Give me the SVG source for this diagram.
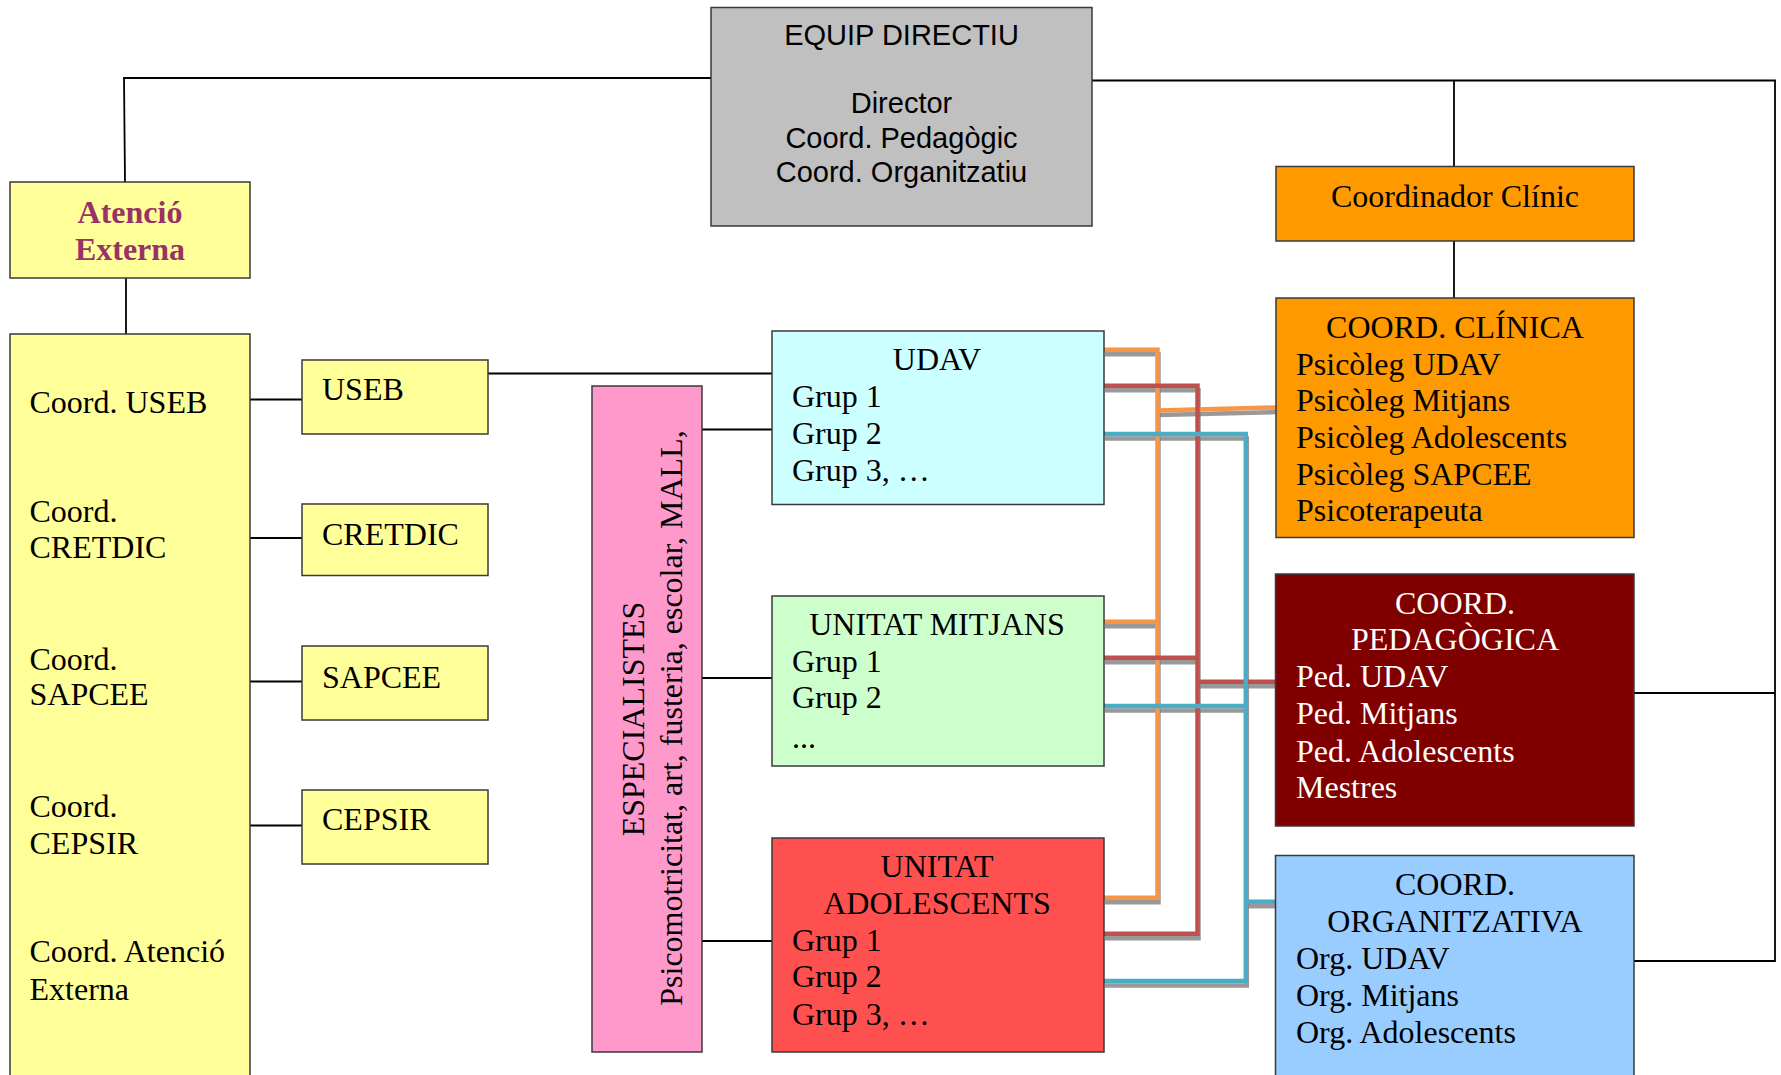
<svg xmlns="http://www.w3.org/2000/svg" width="1781" height="1075" viewBox="0 0 1781 1075">
<style>
.box{stroke:#3a3a3a;stroke-width:1.5}
.ln{fill:none;stroke:#000;stroke-width:1.8}
.t{font-family:"Liberation Serif","Times New Roman",serif;font-size:32px;fill:#000}
.c{text-anchor:middle}
.s{font-family:"Liberation Sans",Arial,sans-serif;font-size:29px;fill:#000;text-anchor:middle}
.w{fill:#fff}
.cn{fill:none;stroke-width:4.5;stroke-linejoin:miter}
.sh{fill:none;stroke:#808080;stroke-opacity:0.8;stroke-width:4.5}
.or{stroke:#f79646}
.rd{stroke:#c0504d}
.bl{stroke:#4bacc6}
</style>
<rect width="1781" height="1075" fill="#fff"/>
<g id="connectors">
<polyline class="ln" points="711,78 124,78 125,182"/>
<line class="ln" x1="126" y1="278" x2="126" y2="334"/>
<polyline class="ln" points="1092,80.5 1775,80.5 1775,961 1634,961"/>
<line class="ln" x1="1634" y1="693" x2="1775" y2="693"/>
<line class="ln" x1="1454" y1="80.5" x2="1454" y2="166"/>
<line class="ln" x1="1454" y1="241" x2="1454" y2="298"/>
<line class="ln" x1="250" y1="399.5" x2="302" y2="399.5"/>
<line class="ln" x1="250" y1="538" x2="302" y2="538"/>
<line class="ln" x1="250" y1="681.5" x2="302" y2="681.5"/>
<line class="ln" x1="250" y1="825.5" x2="302" y2="825.5"/>
<line class="ln" x1="488" y1="373.5" x2="772" y2="373.5"/>
<line class="ln" x1="702" y1="429.5" x2="772" y2="429.5"/>
<line class="ln" x1="702" y1="678" x2="772" y2="678"/>
<line class="ln" x1="702" y1="941" x2="772" y2="941"/>
<g transform="translate(1,4.5)">
<polyline class="sh" points="1104,349.7 1157.5,349.7 1157.5,897.7 1104,897.7"/>
<line class="sh" x1="1104" y1="621.7" x2="1157.5" y2="621.7"/>
<line class="sh" x1="1157.5" y1="410.5" x2="1276" y2="407.5"/>
<polyline class="sh" points="1104,385.7 1197.5,385.7 1197.5,933.7 1104,933.7"/>
<line class="sh" x1="1104" y1="657.7" x2="1197.5" y2="657.7"/>
<line class="sh" x1="1197.5" y1="681.7" x2="1276" y2="681.7"/>
<polyline class="sh" points="1104,434 1245.8,434 1245.8,981 1104,981"/>
<line class="sh" x1="1104" y1="706" x2="1245.8" y2="706"/>
<line class="sh" x1="1245.8" y1="901.7" x2="1276" y2="901.7"/>
</g>
<polyline class="cn or" points="1104,349.7 1157.5,349.7 1157.5,897.7 1104,897.7"/>
<line class="cn or" x1="1104" y1="621.7" x2="1157.5" y2="621.7"/>
<line class="cn or" x1="1157.5" y1="410.5" x2="1276" y2="407.5"/>
<polyline class="cn rd" points="1104,385.7 1197.5,385.7 1197.5,933.7 1104,933.7"/>
<line class="cn rd" x1="1104" y1="657.7" x2="1197.5" y2="657.7"/>
<line class="cn rd" x1="1197.5" y1="681.7" x2="1276" y2="681.7"/>
<polyline class="cn bl" points="1104,434 1245.8,434 1245.8,981 1104,981"/>
<line class="cn bl" x1="1104" y1="706" x2="1245.8" y2="706"/>
<line class="cn bl" x1="1245.8" y1="901.7" x2="1276" y2="901.7"/>
</g>
<g id="equip-directiu">
<rect class="box" x="711" y="7.5" width="381" height="218.5" fill="#c0c0c0"/>
<text class="s" x="901.5" y="45">EQUIP DIRECTIU</text>
<text class="s" x="901.5" y="113.3">Director</text>
<text class="s" x="901.5" y="147.6">Coord. Pedagògic</text>
<text class="s" x="901.5" y="181.7">Coord. Organitzatiu</text>
</g>
<g id="atencio-externa">
<rect class="box" x="10" y="182" width="240" height="96" fill="#ffff99"/>
<text class="t c" x="130" y="222.7" font-weight="bold" style="fill:#993366">Atenció</text>
<text class="t c" x="130" y="259.7" font-weight="bold" style="fill:#993366">Externa</text>
</g>
<g id="coordinacions">
<rect class="box" x="10" y="334" width="240" height="760" fill="#ffff99"/>
<text class="t" x="29.5" y="412.5">Coord. USEB</text>
<text class="t" x="29.5" y="522.4">Coord.</text>
<text class="t" x="29.5" y="558">CRETDIC</text>
<text class="t" x="29.5" y="669.7">Coord.</text>
<text class="t" x="29.5" y="705.3">SAPCEE</text>
<text class="t" x="29.5" y="816.6">Coord.</text>
<text class="t" x="29.5" y="853.6">CEPSIR</text>
<text class="t" x="29.5" y="962.4">Coord. Atenció</text>
<text class="t" x="29.5" y="999.5">Externa</text>
</g>
<g id="useb">
<rect class="box" x="302" y="360" width="186" height="74" fill="#ffff99"/>
<text class="t" x="322" y="400.3">USEB</text>
</g>
<g id="cretdic">
<rect class="box" x="302" y="504" width="186" height="71.5" fill="#ffff99"/>
<text class="t" x="322" y="545.2">CRETDIC</text>
</g>
<g id="sapcee">
<rect class="box" x="302" y="646" width="186" height="74" fill="#ffff99"/>
<text class="t" x="322" y="687.5">SAPCEE</text>
</g>
<g id="cepsir">
<rect class="box" x="302" y="790" width="186" height="74" fill="#ffff99"/>
<text class="t" x="322" y="830.4">CEPSIR</text>
</g>
<g id="especialistes">
<rect class="box" x="592" y="386" width="110" height="666" fill="#ff99cc"/>
<text class="t c" transform="translate(644,719) rotate(-90)">ESPECIALISTES</text>
<text class="t c" transform="translate(682,718) rotate(-90)">Psicomotricitat, art, fusteria, escolar, MALL,</text>
</g>
<g id="udav">
<rect class="box" x="772" y="331" width="332" height="173.5" fill="#ccffff"/>
<text class="t c" x="937" y="370">UDAV</text>
<text class="t" x="792" y="407.3">Grup 1</text>
<text class="t" x="792" y="444">Grup 2</text>
<text class="t" x="792" y="480.7">Grup 3, …</text>
</g>
<g id="unitat-mitjans">
<rect class="box" x="772" y="596" width="332" height="170" fill="#ccffcc"/>
<text class="t c" x="937" y="635">UNITAT MITJANS</text>
<text class="t" x="792" y="671.7">Grup 1</text>
<text class="t" x="792" y="708.3">Grup 2</text>
<text class="t" x="792" y="748">...</text>
</g>
<g id="unitat-adolescents">
<rect class="box" x="772" y="838" width="332" height="214" fill="#ff5050"/>
<text class="t c" x="937" y="876.7">UNITAT</text>
<text class="t c" x="937" y="914.3">ADOLESCENTS</text>
<text class="t" x="792" y="950.7">Grup 1</text>
<text class="t" x="792" y="987.3">Grup 2</text>
<text class="t" x="792" y="1025">Grup 3, …</text>
</g>
<g id="coordinador-clinic">
<rect class="box" x="1276" y="166.5" width="358" height="74.5" fill="#ff9900"/>
<text class="t c" x="1455" y="207">Coordinador Clínic</text>
</g>
<g id="coord-clinica">
<rect class="box" x="1276" y="298" width="358" height="239.5" fill="#ff9900"/>
<text class="t c" x="1455" y="337.5">COORD. CLÍNICA</text>
<text class="t" x="1296" y="375">Psicòleg UDAV</text>
<text class="t" x="1296" y="411.3">Psicòleg Mitjans</text>
<text class="t" x="1296" y="448">Psicòleg Adolescents</text>
<text class="t" x="1296" y="484.6">Psicòleg SAPCEE</text>
<text class="t" x="1296" y="521">Psicoterapeuta</text>
</g>
<g id="coord-pedagogica">
<rect class="box" x="1275.5" y="574" width="358.5" height="252" fill="#800000"/>
<text class="t c w" x="1455" y="613.6">COORD.</text>
<text class="t c w" x="1455" y="650.4">PEDAGÒGICA</text>
<text class="t w" x="1296" y="687.3">Ped. UDAV</text>
<text class="t w" x="1296" y="724">Ped. Mitjans</text>
<text class="t w" x="1296" y="761.6">Ped. Adolescents</text>
<text class="t w" x="1296" y="797.7">Mestres</text>
</g>
<g id="coord-organitzativa">
<rect class="box" x="1275.5" y="855.5" width="358.5" height="240" fill="#99ccff"/>
<text class="t c" x="1455" y="894.8">COORD.</text>
<text class="t c" x="1455" y="931.6">ORGANITZATIVA</text>
<text class="t" x="1296" y="969">Org. UDAV</text>
<text class="t" x="1296" y="1006">Org. Mitjans</text>
<text class="t" x="1296" y="1042.8">Org. Adolescents</text>
</g>
</svg>
